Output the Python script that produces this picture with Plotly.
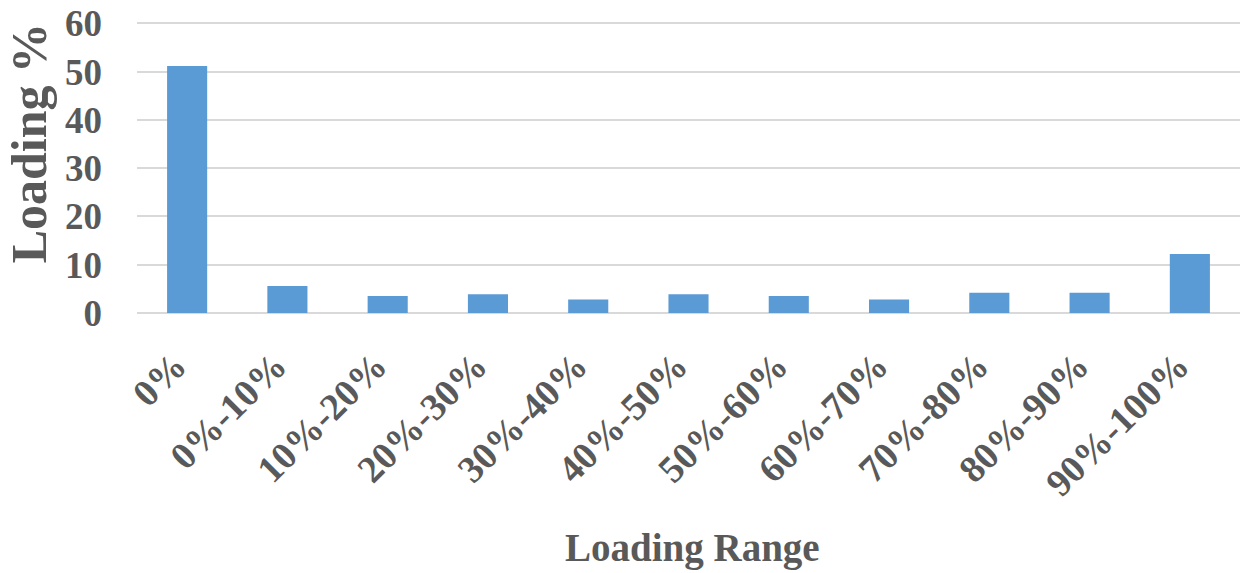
import plotly.graph_objects as go

categories = ["0%", "0%-10%", "10%-20%", "20%-30%", "30%-40%", "40%-50%",
              "50%-60%", "60%-70%", "70%-80%", "80%-90%", "90%-100%"]
loading = [51.2, 5.6, 3.5, 3.9, 2.8, 3.9, 3.5, 2.8, 4.2, 4.2, 12.2]
y_ticks = [0, 10, 20, 30, 40, 50, 60]

font_family = "Liberation Serif"
gray = "#595959"

fig = go.Figure(go.Bar(x=categories, y=loading, marker=dict(color="#5b9bd5", line=dict(width=0))))

fig.update_layout(
    width=1240, height=573,
    margin=dict(l=137, r=0, t=21, b=260),
    plot_bgcolor="white", paper_bgcolor="white",
    bargap=0.6,
    showlegend=False,
    font=dict(family=font_family, color=gray),
)
fig.update_yaxes(
    range=[0, 60.5], tickvals=y_ticks, automargin=False,
    showgrid=True, gridcolor="#d9d9d9", gridwidth=2,
    zeroline=True, zerolinecolor="#d9d9d9", zerolinewidth=2,
    showline=False, ticks="",
    tickfont=dict(family=font_family, size=37, color=gray, weight="bold"),
    ticklabelstandoff=34, ticklabeloverflow="allow",
)
fig.update_xaxes(
    tickangle=-45, showline=False, ticks="", automargin=False,
    tickfont=dict(family=font_family, size=38, color=gray, weight="bold"),
    ticklabelstandoff=22, ticklabelshift=-12, ticklabeloverflow="allow",
)
fig.add_annotation(
    text="Loading %", textangle=-90, xref="paper", yref="paper",
    x=-0.0979, y=0.581, showarrow=False, xanchor="center", yanchor="middle",
    font=dict(family=font_family, size=50, color=gray, weight="bold"),
)
fig.add_annotation(
    text="Loading Range", xref="paper", yref="paper",
    x=0.504, y=-0.804, showarrow=False, xanchor="center", yanchor="middle",
    font=dict(family=font_family, size=39, color=gray, weight="bold"),
)

fig.write_html(
    "out.html",
    config={"displayModeBar": False},
    post_script="document.body.style.margin='0';document.body.style.overflow='hidden';",
)
